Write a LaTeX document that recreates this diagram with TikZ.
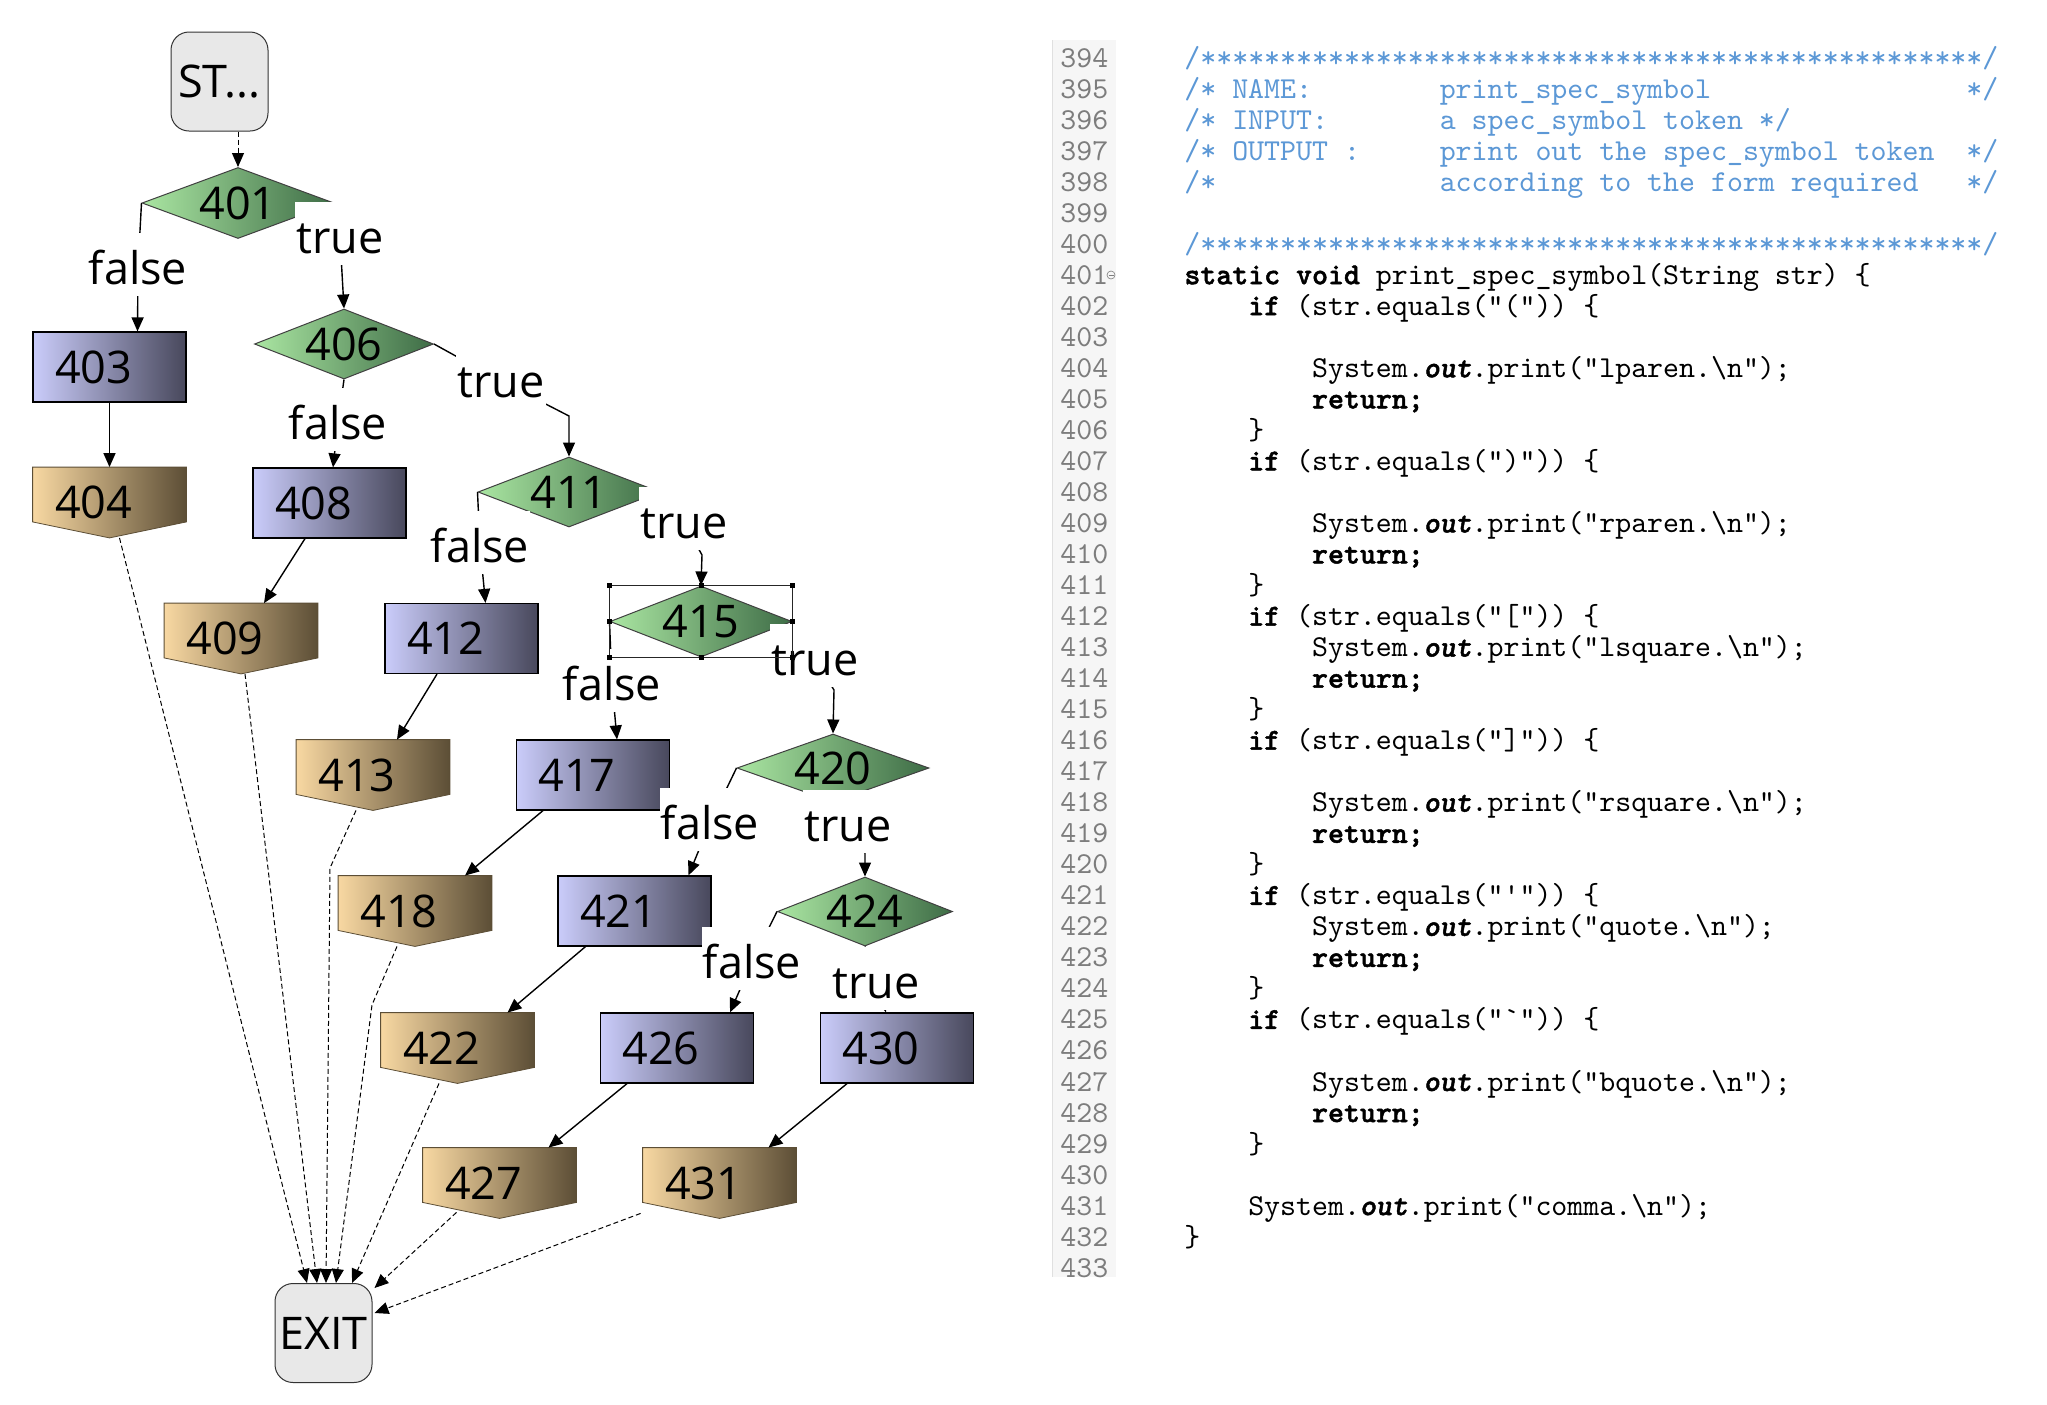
\documentclass[tikz,border=0pt]{standalone}
\usepackage{fontspec}
\usetikzlibrary{shapes.geometric}
\usetikzlibrary{positioning}
\usetikzlibrary{arrows.meta}
\usetikzlibrary{calc}
\usetikzlibrary{fit}
\usetikzlibrary{backgrounds}
\newfontfamily\cfgfont{Open Sans}
\newfontfamily\codefont{lmmono10-regular.otf}[ItalicFont=lmmono10-italic.otf,BoldFont=lmmonolt10-bold.otf,BoldItalicFont=lmmonolt10-boldoblique.otf,BoldFeatures={FakeBold=1.6},BoldItalicFeatures={FakeBold=1.6},Ligatures=TeXOff]
\newcommand{\cfgsize}{\cfgfont\fontsize{22.5pt}{27pt}\selectfont}
\newcommand{\ly}[1]{{67+(#1-394)*31.03}}
\newcommand{\sk}[1]{\hspace*{#1\fontdimen2\font}}
\newcommand{\stars}{*************************************************}
\definecolor{condL}{RGB}{170,230,162}
\definecolor{condD}{RGB}{62,108,70}
\definecolor{stmtL}{RGB}{202,204,250}
\definecolor{stmtD}{RGB}{72,72,92}
\definecolor{retL}{RGB}{248,216,162}
\definecolor{retD}{RGB}{92,78,54}
\definecolor{termF}{RGB}{232,232,232}
\definecolor{cmtblue}{RGB}{92,152,214}
\definecolor{numgray}{RGB}{125,125,125}
\definecolor{gutter}{RGB}{246,246,246}
\tikzset{
    cond/.style = {diamond, aspect=2.7, inner sep=0pt, draw=black!75, line width=0.5pt, left color=condL, right color=condD, font=\cfgsize},
    stmt/.style = {rectangle, draw=black, line width=0.6pt, left color=stmtL, right color=stmtD, minimum height=35pt, text width=54.5pt, inner xsep=11pt, inner ysep=0pt, align=left, font=\cfgsize},
    ret/.style = {rectangle, minimum height=35pt, text width=54.5pt, inner xsep=11pt, inner ysep=0pt, align=left, font=\cfgsize},
    term/.style = {rectangle, rounded corners=9pt, draw=black!80, line width=0.5pt, fill=termF, minimum width=48.5pt, minimum height=49.5pt, inner sep=0pt, font=\cfgsize},
    lbl/.style = {fill=white, inner xsep=0.5pt, inner ysep=0pt, text height=25.5pt, text depth=6pt, anchor=base, yshift=-8pt, font=\cfgsize},
    edgen/.style = {-{Triangle[length=7pt,width=6pt]}, line width=0.7pt},
    edged/.style = {-{Triangle[length=7pt,width=6pt]}, line width=0.5pt, dash pattern=on 2.5pt off 1.5pt}, % to exit
    code/.style = {anchor=base west, inner sep=0pt, font=\codefont\fontsize{15.2pt}{18pt}\selectfont},
    cmt/.style = {code, text=cmtblue},
    lnum/.style = {code, text=numgray},
    handle/.style = {fill=black, minimum size=2.5pt, inner sep=0pt}
}
\begin{document}
\begin{tikzpicture}[x=0.5pt,y=-0.5pt]
  \useasboundingbox (0,0) rectangle (2047,1404);

  \node[term] (nstart) at (219.5,81.5) {ST...};
  \node[cond, minimum width=96pt, minimum height=35.5pt] (d401) at (238,203) {401};
  \node[stmt] (n403) at (109.5,367) {403};
  \node[ret] (p404) at (109.5,502.5) {404};
  \node[cond, minimum width=89.5pt, minimum height=35pt] (d406) at (344,344) {406};
  \node[stmt] (n408) at (329.5,503) {408};
  \node[ret] (p409) at (241,638.5) {409};
  \node[cond, minimum width=91pt, minimum height=35pt] (d411) at (569,492) {411};
  \node[stmt] (n412) at (461.5,638.5) {412};
  \node[ret] (p413) at (373,775) {413};
  \node[cond, minimum width=91pt, minimum height=35.5pt] (d415) at (701,621.5) {415};
  \node[stmt] (n417) at (593,775) {417};
  \node[ret] (p418) at (415,911) {418};
  \node[cond, minimum width=96pt, minimum height=34pt] (d420) at (833,768) {420};
  \node[stmt] (n421) at (634.5,911) {421};
  \node[ret] (p422) at (457.5,1048) {422};
  \node[cond, minimum width=87.5pt, minimum height=34.5pt] (d424) at (865,911.5) {424};
  \node[stmt] (n426) at (677,1048) {426};
  \node[ret] (p427) at (499.5,1183) {427};
  \node[stmt] (n430) at (897,1048) {430};
  \node[ret] (p431) at (719.5,1183) {431};
  \node[term] (nexit) at (323.5,1333) {EXIT};

  \begin{scope}[on background layer]
    \fill[white] (0,0) rectangle (2047,1404);
    \foreach \p in {p404,p409,p413,p418,p422,p427,p431}
      \shadedraw[left color=retL, right color=retD, draw=retD, line width=0.4pt]
        (\p.north west) -- (\p.north east) -- ([yshift=8pt]\p.south east) -- (\p.south) -- ([yshift=8pt]\p.south west) -- cycle;
  \end{scope}

  \draw[edged] ([xshift=9.25pt]nstart.south) -- (d401.north);
  \draw[edgen] (d401.west) -- (138,268) node[lbl] {false} -- ([xshift=14pt]n403.north);
  \draw[edgen] (d401.east) -- (340,237) node[lbl] {true} -- (d406.north);
  \draw[edgen] (n403.south) -- (p404.north);
  \draw[edgen] (d406.south) -- (338,423) node[lbl] {false} -- ([xshift=1.75pt]n408.north);
  \draw[edgen] (d406.east) -- (501,381) node[lbl] {true} -- (569,416) -- (d411.north);
  \draw[edgen] ([xshift=-12.25pt]n408.south) -- ([xshift=11.5pt]p409.north);
  \draw[edgen] (d411.west) -- (480,546) node[lbl] {false} -- ([xshift=12pt]n412.north);
  \draw[edgen] (d411.east) -- (684,522) node[lbl] {true} -- (702,555) -- (d415.north);
  \draw[edgen] ([xshift=-12.25pt]n412.south) -- ([xshift=12pt]p413.north);
  \draw[edgen] (d415.west) -- (612,684) node[lbl] {false} -- ([xshift=12pt]n417.north);
  \draw[edgen] (d415.east) -- (815,659) node[lbl] {true} -- (834,690) -- (d420.north);
  \draw[edgen] ([xshift=-25pt]n417.south) -- ([xshift=25pt]p418.north);
  \draw[edgen] (d420.west) -- (710,823) node[lbl] {false} -- ([xshift=27pt]n421.north);
  \draw[edgen] (d420.south) -- (848,825) node[lbl] {true} -- (865,853) -- (d424.north);
  \draw[edgen] ([xshift=-24.5pt]n421.south) -- ([xshift=25pt]p422.north);
  \draw[edgen] (d424.west) -- (752,962) node[lbl] {false} -- ([xshift=26.5pt]n426.north);
  \draw[edgen] (d424.south) -- (876,982) node[lbl] {true} -- ([xshift=-5.5pt]n430.north);
  \draw[edgen] ([xshift=-25pt]n426.south) -- ([xshift=24.5pt]p427.north);
  \draw[edgen] ([xshift=-25pt]n430.south) -- ([xshift=24.5pt]p431.north);

  \draw[edged] ([xshift=5pt]p404.south) -- ([xshift=-8.25pt]nexit.north);
  \draw[edged] ([xshift=2pt]p409.south) -- ([xshift=-3.25pt]nexit.north);
  \draw[edged] ([xshift=-8.5pt]p413.south) -- (330,868) -- ([xshift=1.25pt]nexit.north);
  \draw[edged] ([xshift=-9pt]p418.south) -- (372,1005) -- ([xshift=6.25pt]nexit.north);
  \draw[edged] ([xshift=-9.25pt]p422.south) -- ([xshift=14.25pt]nexit.north);
  \draw[edged] ($(p427.south)+(-43,-6)$) -- ($(nexit.center)+(51,-45)$);
  \draw[edged] ($(p431.south west)+(-2,-5)$) -- ($(nexit.center)+(51,-20)$);

  % selected node
  \node[fit=(d415), inner sep=0pt, draw=black!85, line width=0.4pt] (sel415) {};
  \foreach \a in {north west,north,north east,west,east,south west,south,south east}
    \node[handle] at (sel415.\a) {};

  % source listing
  \fill[gutter] (1052,40) rectangle (1116,1277);
  \draw[black!12, line width=0.5pt] (1052,40) -- (1052,1277);
  \foreach \n in {394,...,433}
    \node[lnum] (l\n) at (1060,\ly{\n}) {\n};
  \draw[numgray, line width=0.3pt] (1111,275) circle (2pt);
  \draw[numgray, line width=0.3pt] (1108.5,275) -- (1113.5,275);

  \node[cmt] (c394) at (1184,\ly{394}) {/\stars/};
  \node[cmt] (c395) at (1184,\ly{395}) {/* NAME:\sk{8}print\_spec\_symbol\sk{16}*/};
  \node[cmt] (c396) at (1184,\ly{396}) {/* INPUT:\sk{7}a spec\_symbol token */};
  \node[cmt] (c397) at (1184,\ly{397}) {/* OUTPUT :\sk{5}print out the spec\_symbol token\sk{2}*/};
  \node[cmt] (c398) at (1184,\ly{398}) {/*\sk{14}according to the form required\sk{3}*/};
  \node[cmt] (c400) at (1184,\ly{400}) {/\stars/};
  \node[code] (c401) at (1184,\ly{401}) {\textbf{static void} print\_spec\_symbol(String str) \{};
  \node[code] (c402) at (1184,\ly{402}) {\sk{4}\textbf{if} (str.equals("(")) \{};
  \node[code] (c404) at (1184,\ly{404}) {\sk{8}System.\textbf{\textit{out}}.print("lparen.\textbackslash n");};
  \node[code] (c405) at (1184,\ly{405}) {\sk{8}\textbf{return;}};
  \node[code] (c406) at (1184,\ly{406}) {\sk{4}\}};
  \node[code] (c407) at (1184,\ly{407}) {\sk{4}\textbf{if} (str.equals(")")) \{};
  \node[code] (c409) at (1184,\ly{409}) {\sk{8}System.\textbf{\textit{out}}.print("rparen.\textbackslash n");};
  \node[code] (c410) at (1184,\ly{410}) {\sk{8}\textbf{return;}};
  \node[code] (c411) at (1184,\ly{411}) {\sk{4}\}};
  \node[code] (c412) at (1184,\ly{412}) {\sk{4}\textbf{if} (str.equals("[")) \{};
  \node[code] (c413) at (1184,\ly{413}) {\sk{8}System.\textbf{\textit{out}}.print("lsquare.\textbackslash n");};
  \node[code] (c414) at (1184,\ly{414}) {\sk{8}\textbf{return;}};
  \node[code] (c415) at (1184,\ly{415}) {\sk{4}\}};
  \node[code] (c416) at (1184,\ly{416}) {\sk{4}\textbf{if} (str.equals("]")) \{};
  \node[code] (c418) at (1184,\ly{418}) {\sk{8}System.\textbf{\textit{out}}.print("rsquare.\textbackslash n");};
  \node[code] (c419) at (1184,\ly{419}) {\sk{8}\textbf{return;}};
  \node[code] (c420) at (1184,\ly{420}) {\sk{4}\}};
  \node[code] (c421) at (1184,\ly{421}) {\sk{4}\textbf{if} (str.equals("'")) \{};
  \node[code] (c422) at (1184,\ly{422}) {\sk{8}System.\textbf{\textit{out}}.print("quote.\textbackslash n");};
  \node[code] (c423) at (1184,\ly{423}) {\sk{8}\textbf{return;}};
  \node[code] (c424) at (1184,\ly{424}) {\sk{4}\}};
  \node[code] (c425) at (1184,\ly{425}) {\sk{4}\textbf{if} (str.equals("`")) \{};
  \node[code] (c427) at (1184,\ly{427}) {\sk{8}System.\textbf{\textit{out}}.print("bquote.\textbackslash n");};
  \node[code] (c428) at (1184,\ly{428}) {\sk{8}\textbf{return;}};
  \node[code] (c429) at (1184,\ly{429}) {\sk{4}\}};
  \node[code] (c431) at (1184,\ly{431}) {\sk{4}System.\textbf{\textit{out}}.print("comma.\textbackslash n");};
  \node[code] (c432) at (1184,\ly{432}) {\}};
\end{tikzpicture}
\end{document}
